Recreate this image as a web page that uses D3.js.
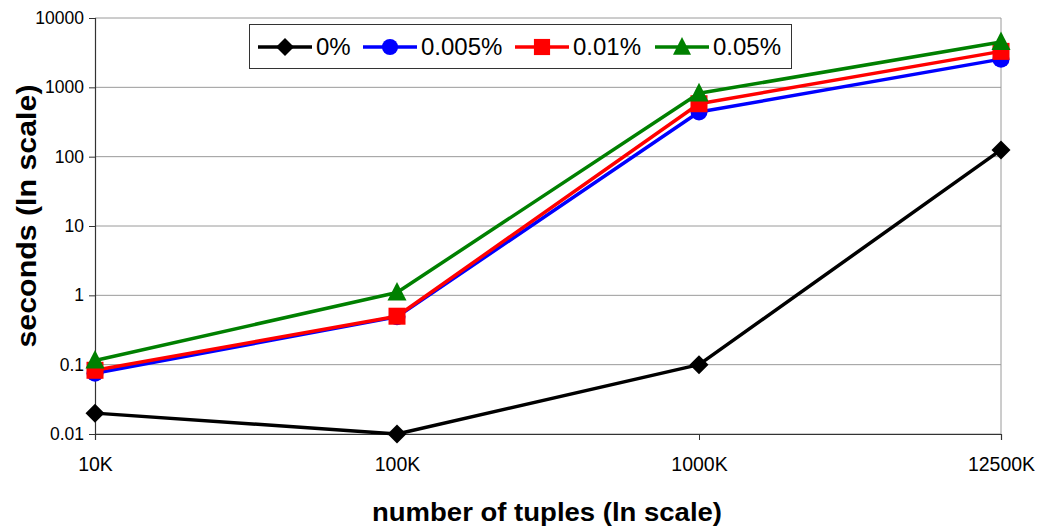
<!DOCTYPE html>
<html>
<head>
<meta charset="utf-8">
<script src="https://cdn.jsdelivr.net/npm/d3@7/dist/d3.min.js"></script>
<style>
  html, body { margin: 0; padding: 0; background: #fff; }
  svg { display: block; font-family: "Liberation Sans", Arial, sans-serif; }
</style>
</head>
<body>
<svg id="chart" width="1045" height="531"></svg>
<script>
// Data: run time in seconds per table size, one series per percentage
const categories = ["10K", "100K", "1000K", "12500K"];
const yTicks = [0.01, 0.1, 1, 10, 100, 1000, 10000];
const seriesNames = ["0%", "0.005%", "0.01%", "0.05%"];
const values0 = [0.02, 0.01, 0.1, 125];
const values005 = [0.075, 0.49, 440, 2550];
const values01 = [0.083, 0.5, 580, 3300];
const values05 = [0.115, 1.1, 820, 4500];
const seriesColors = ["#000000", "#0000ff", "#ff0000", "#008000"];
const seriesShapes = ["diamond", "circle", "square", "triangle"];

const series = seriesNames.map((name, i) => ({
  name,
  values: [values0, values005, values01, values05][i],
  color: seriesColors[i],
  shape: seriesShapes[i]
}));

const svg = d3.select("#chart");
const plot = { left: 95, right: 1001, top: 18, bottom: 434 };

const x = d3.scalePoint().domain(categories).range([plot.left, plot.right]);
const y = d3.scaleLog().domain([0.01, 10000]).range([plot.bottom, plot.top]);

// Horizontal gridlines
svg.append("g")
  .selectAll("line")
  .data(yTicks)
  .join("line")
  .attr("x1", plot.left).attr("x2", plot.right)
  .attr("y1", d => y(d)).attr("y2", d => y(d))
  .attr("stroke", "#9a9a9a").attr("stroke-width", 1);

// Right border of plot area
svg.append("line")
  .attr("x1", plot.right).attr("x2", plot.right)
  .attr("y1", plot.top).attr("y2", plot.bottom)
  .attr("stroke", "#9a9a9a").attr("stroke-width", 1);

// Y axis
const yAxis = d3.axisLeft(y)
  .tickValues(yTicks)
  .tickFormat(d => String(d))
  .tickSize(6)
  .tickPadding(5);
const gy = svg.append("g").attr("transform", `translate(${plot.left},0)`).call(yAxis);
gy.select(".domain").attr("stroke", "#333").attr("stroke-width", 1.2);
gy.selectAll(".tick line").attr("stroke", "#333");
gy.selectAll(".tick text")
  .attr("font-size", 17.5).attr("fill", "#000")
  .attr("font-family", "Liberation Sans, Arial, sans-serif");

// X axis
const xAxis = d3.axisBottom(x).tickSize(6).tickPadding(17);
const gx = svg.append("g").attr("transform", `translate(0,${plot.bottom})`).call(xAxis);
gx.select(".domain").attr("stroke", "#333").attr("stroke-width", 1.2);
gx.selectAll(".tick line").attr("stroke", "#333");
gx.selectAll(".tick text")
  .attr("font-size", 19.5).attr("fill", "#000")
  .attr("font-family", "Liberation Sans, Arial, sans-serif");

// Axis titles
svg.append("text")
  .attr("x", 547).attr("y", 521)
  .attr("text-anchor", "middle")
  .attr("font-size", 26).attr("font-weight", "bold")
  .attr("textLength", 350).attr("lengthAdjust", "spacingAndGlyphs")
  .text("number of tuples (ln scale)");

svg.append("text")
  .attr("transform", `translate(36,216) rotate(-90)`)
  .attr("text-anchor", "middle")
  .attr("font-size", 27).attr("font-weight", "bold")
  .attr("textLength", 263).attr("lengthAdjust", "spacingAndGlyphs")
  .text("seconds (ln scale)");

// Marker drawing
function marker(sel, shape, color, cx, cy, k) {
  const s = k || 1;
  if (shape === "diamond") {
    const r = 9.5 * s;
    sel.append("path")
      .attr("d", `M${cx},${cy - r}L${cx + r},${cy}L${cx},${cy + r}L${cx - r},${cy}Z`)
      .attr("fill", color);
  } else if (shape === "circle") {
    sel.append("circle").attr("cx", cx).attr("cy", cy).attr("r", 8.5 * s).attr("fill", color);
  } else if (shape === "square") {
    const h = 8.5 * s;
    sel.append("rect").attr("x", cx - h).attr("y", cy - h)
      .attr("width", 2 * h).attr("height", 2 * h).attr("fill", color);
  } else if (shape === "triangle") {
    const h = 9.5 * s;
    sel.append("path")
      .attr("d", `M${cx},${cy - h * 1.1}L${cx + h},${cy + h * 0.85}L${cx - h},${cy + h * 0.85}Z`)
      .attr("fill", color);
  }
}

const line = d3.line()
  .x((d, i) => x(categories[i]))
  .y(d => y(d));

const gSeries = svg.append("g");
series.forEach(s => {
  const g = gSeries.append("g");
  g.append("path")
    .attr("d", line(s.values))
    .attr("fill", "none")
    .attr("stroke", s.color)
    .attr("stroke-width", 3.5)
    .attr("stroke-linejoin", "round");
  s.values.forEach((v, i) => marker(g, s.shape, s.color, x(categories[i]), y(v)));
});

// Legend
const legend = svg.append("g");
legend.append("rect")
  .attr("x", 249.5).attr("y", 24.5).attr("width", 542).attr("height", 44)
  .attr("fill", "#fff").attr("stroke", "#333").attr("stroke-width", 1);

const legendX = [258, 363, 515, 655];
series.forEach((s, i) => {
  const lx = legendX[i];
  const ly = 47;
  legend.append("line")
    .attr("x1", lx).attr("x2", lx + 54)
    .attr("y1", ly).attr("y2", ly)
    .attr("stroke", s.color).attr("stroke-width", 3.5);
  marker(legend, s.shape, s.color, lx + 27, ly, 0.95);
  legend.append("text")
    .attr("x", lx + 58).attr("y", ly + 8)
    .attr("font-size", 24)
    .text(s.name);
});
</script>
</body>
</html>
